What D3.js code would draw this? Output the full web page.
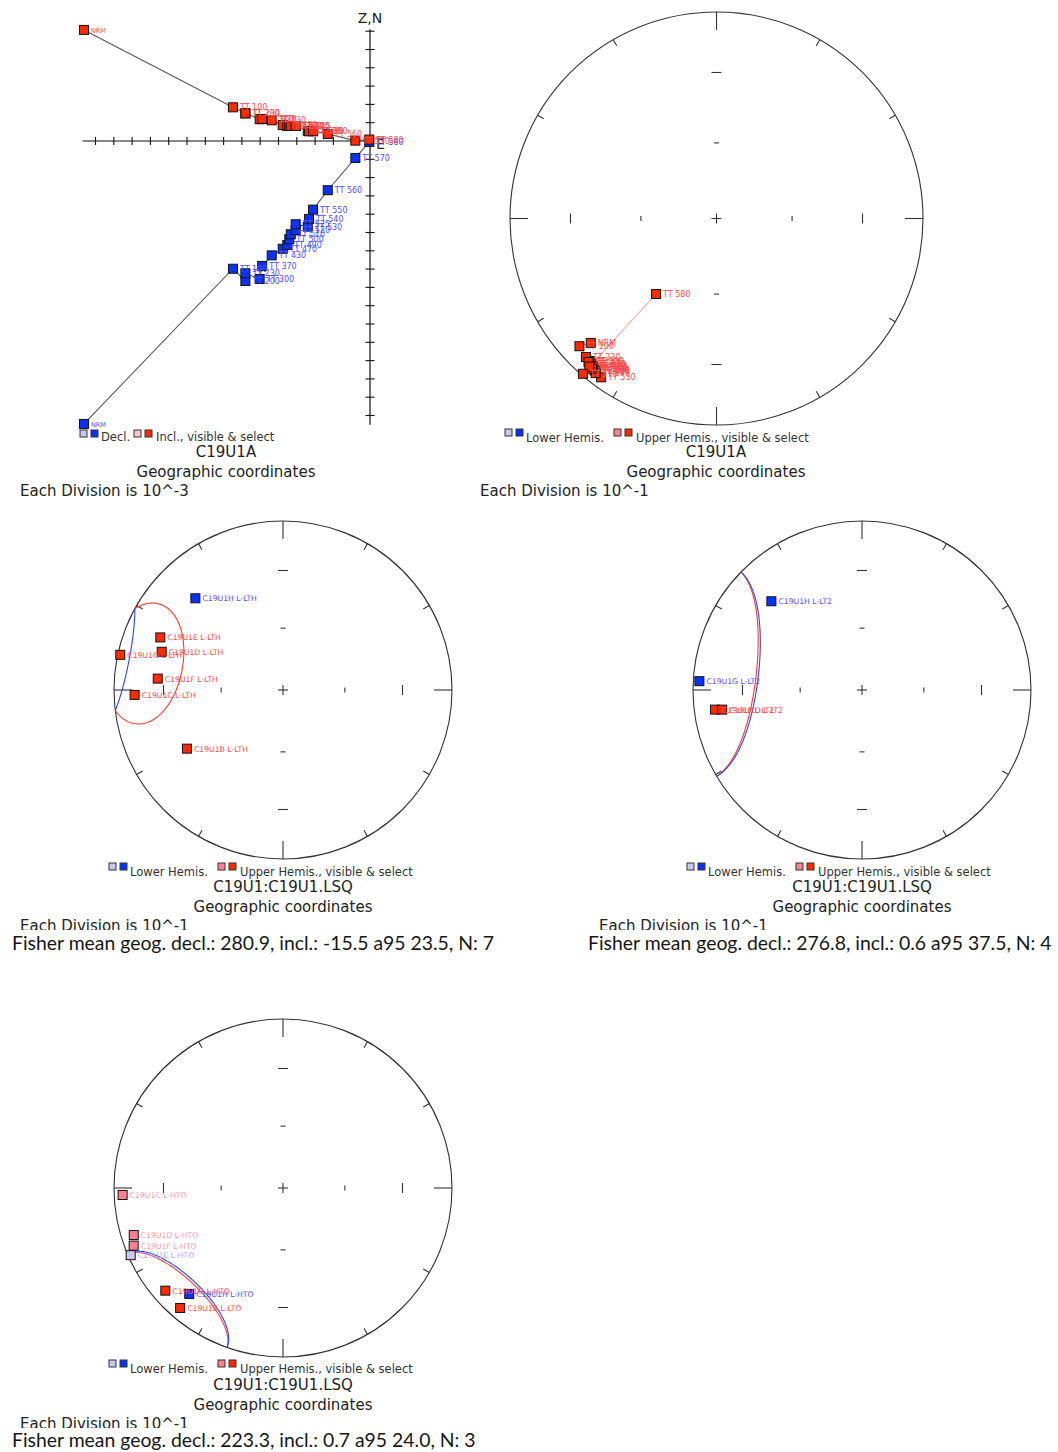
<!DOCTYPE html>
<html>
<head>
<meta charset="utf-8">
<script src="https://cdn.jsdelivr.net/npm/d3@7"></script>
<style>
  body { margin: 0; background: #fff; }
  text { font-family: "DejaVu Sans", sans-serif; }
</style>
</head>
<body>
<script>
// ---------- data ----------
// Zijderveld steps of C19U1A (units: divisions of 10^-3)
const zijSteps = ['NRM', 'TT 100', 'TT 200', 'TT 230', 'TT 300', 'TT 370', 'TT 430', 'TT 470', 'TT 490', 'TT 500',
    'TT 510', 'TT 520', 'TT 525', 'TT 530', 'TT 540', 'TT 550', 'TT 560', 'TT 570', 'TT 580'];
const zijEast = [-15.63, -7.49, -6.81, -6.81, -6.03, -5.89, -5.37, -4.77, -4.52, -4.41,
    -4.33, -4.06, -4.06, -3.40, -3.33, -3.11, -2.31, -0.80, -0.04];
const zijNorth = [-15.46, -6.98, -7.65, -7.23, -7.54, -6.83, -6.25, -5.89, -5.68, -5.37,
    -5.10, -4.86, -4.55, -4.68, -4.26, -3.75, -2.69, -0.93, -0.05];
const zijUp = [6.07, 1.84, 1.51, 1.51, 1.19, 1.20, 1.13, 0.87, 0.82, 0.82,
    0.82, 0.82, 0.82, 0.56, 0.53, 0.53, 0.38, 0.02, 0.08];

// L-LTH directions
const lthNames = ['C19U1B L-LTH', 'C19U1C L-LTH', 'C19U1D L-LTH', 'C19U1E L-LTH', 'C19U1F L-LTH', 'C19U1G L-LTH', 'C19U1H L-LTH'];
const lthDec = [238.6, 268.1, 287.5, 293.2, 275.2, 282.2, 316.3];
const lthInc = [-33.8, -13.2, -25.7, -22.1, -26.5, -1.7, 25.9];
const lthFisher = [280.9, -15.5, 23.5, 7];

// L-LT2 directions
const lt2Names = ['C19U1F L-LT2', 'C19U1D L-LT2', 'C19U1G L-LT2', 'C19U1H L-LT2'];
const lt2Dec = [262.4, 262.0, 273.1, 314.4];
const lt2Inc = [-13.3, -17.6, 4.1, 25.9];
const lt2Fisher = [276.8, 0.6, 37.5, 4];

// L-HTO directions (selected = used in the mean)
const htoNames = ['C19U1C L-HTO', 'C19U1D L-HTO', 'C19U1F L-HTO', 'C19U1E L-HTO', 'C19U1G L-HTO', 'C19U1H L-HTO', 'C19U1B L-LTO'];
const htoDec = [267.5, 252.5, 248.9, 246.2, 228.9, 221.5, 220.6];
const htoInc = [-5.6, -8.2, -5.9, 1.7, -8.4, 17.4, -7.2];
const htoSelected = [false, false, false, false, true, true, true];
const htoFisher = [223.3, 0.7, 24.0, 3];

// ---------- styles ----------
const colLightBlue = '#c8c8f2', colBlue = '#0a32ff', colPink = '#ff8090', colRed = '#ff2a00';
const lblBlue = '#5050ff', lblRed = '#ff4c4c', lblPink = '#ff98a8', lblLightBlue = '#a8a8ff';
const rad = Math.PI / 180;

const svg = d3.select('body')
    .append('svg')
    .attr('width', 1058)
    .attr('height', 1452);

function square(g, x, y, fill, size) {
    const s = size || 9;
    g.append('rect')
        .attr('x', x - s / 2).attr('y', y - s / 2)
        .attr('width', s).attr('height', s)
        .attr('fill', fill).attr('stroke', '#111').attr('stroke-width', 1);
}

function label(g, x, y, txt, color, size) {
    g.append('text')
        .attr('x', x + 7).attr('y', y + 3)
        .attr('font-size', size || 7.7)
        .attr('fill', color)
        .text(txt);
}

function legend(g, x0, top, kind) {
    const baseline = kind === 'zij' ? top + 11 : top + 13;
    g.append('rect').attr('x', x0).attr('y', top).attr('width', 7).attr('height', 7).attr('fill', colLightBlue).attr('stroke', '#333');
    g.append('rect').attr('x', x0 + 11).attr('y', top).attr('width', 7).attr('height', 7).attr('fill', colBlue).attr('stroke', '#333');
    const t1 = kind === 'zij' ? 'Decl.' : 'Lower Hemis.';
    const t2 = kind === 'zij' ? 'Incl., visible & select' : 'Upper Hemis., visible & select';
    const off2 = kind === 'zij' ? 54 : 109;
    g.append('text').attr('x', x0 + 21).attr('y', baseline).attr('font-size', 11.5).attr('fill', '#333').text(t1);
    g.append('rect').attr('x', x0 + off2).attr('y', top).attr('width', 7).attr('height', 7).attr('fill', kind === 'zij' ? '#ffc8c8' : colPink).attr('stroke', '#333');
    g.append('rect').attr('x', x0 + off2 + 11).attr('y', top).attr('width', 7).attr('height', 7).attr('fill', colRed).attr('stroke', '#333');
    g.append('text').attr('x', x0 + off2 + 22).attr('y', baseline).attr('font-size', 11.5).attr('fill', '#333').text(t2);
}

function titles(g, cx, y, name, divX, divText, clipY) {
    g.append('text').attr('x', cx).attr('y', y).attr('text-anchor', 'middle').attr('font-size', 15).attr('fill', '#222').text(name);
    g.append('text').attr('x', cx).attr('y', y + 20).attr('text-anchor', 'middle').attr('font-size', 15).attr('fill', '#222').text('Geographic coordinates');
    const t = g.append('text').attr('x', divX).attr('y', y + 39).attr('font-size', 15).attr('fill', '#222').text(divText);
    if (clipY) {
        const id = 'clip' + Math.round(clipY);
        svg.append('clipPath').attr('id', id).append('rect').attr('x', 0).attr('y', 0).attr('width', 1058).attr('height', clipY);
        t.attr('clip-path', 'url(#' + id + ')');
    }
}

function fisherText(g, x, y, f) {
    g.append('text').attr('x', x).attr('y', y)
        .style('font-family', 'Lato, "Open Sans", sans-serif')
        .attr('font-size', 19.4).attr('fill', '#161616')
        .text('Fisher mean geog. decl.: ' + f[0].toFixed(1) + ', incl.: ' + f[1].toFixed(1) +
            ' a95 ' + f[2].toFixed(1) + ', N: ' + f[3]);
}

// ---------- Zijderveld ----------
(function () {
    const g = svg.append('g');
    const zDiv = 18.3;
    const zx = d3.scaleLinear().domain([0, 1]).range([370, 370 + zDiv]);
    const zy = d3.scaleLinear().domain([0, 1]).range([141, 141 - zDiv]);
    const axisE = [-15.7, 0.1], axisV = [-15.5, 6.1];

    g.append('line').attr('x1', zx(axisE[0])).attr('x2', zx(axisE[1])).attr('y1', zy(0)).attr('y2', zy(0)).attr('stroke', '#111').attr('stroke-width', 1.2);
    g.append('line').attr('x1', zx(0)).attr('x2', zx(0)).attr('y1', zy(axisV[0])).attr('y2', zy(axisV[1])).attr('stroke', '#111').attr('stroke-width', 1.2);
    d3.range(-15, 0).forEach(v => {
        g.append('line').attr('x1', zx(v)).attr('x2', zx(v)).attr('y1', zy(0) - 4).attr('y2', zy(0) + 4).attr('stroke', '#111').attr('stroke-width', 1.1);
    });
    d3.range(-15, 7).filter(v => v !== 0).forEach(v => {
        g.append('line').attr('x1', zx(0) - 4.5).attr('x2', zx(0) + 4.5).attr('y1', zy(v)).attr('y2', zy(v)).attr('stroke', '#111').attr('stroke-width', 1.1);
    });
    g.append('text').attr('x', zx(0)).attr('y', 23).attr('text-anchor', 'middle').attr('font-size', 14).attr('fill', '#222').text('Z,N');
    g.append('text').attr('x', zx(0) + 6).attr('y', zy(0) + 8).attr('font-size', 14).attr('fill', '#222').text('E');

    const idx = d3.range(zijSteps.length);
    const lineN = d3.line().x(i => zx(zijEast[i])).y(i => zy(zijNorth[i]));
    const lineU = d3.line().x(i => zx(zijEast[i])).y(i => zy(zijUp[i]));
    g.append('path').attr('d', lineN(idx)).attr('fill', 'none').attr('stroke', '#555').attr('stroke-width', 1.1);
    g.append('path').attr('d', lineU(idx)).attr('fill', 'none').attr('stroke', '#555').attr('stroke-width', 1.1);

    idx.forEach(i => square(g, zx(zijEast[i]), zy(zijNorth[i]), colBlue));
    idx.forEach(i => label(g, zx(zijEast[i]), zy(zijNorth[i]), zijSteps[i], lblBlue, i === 0 ? 6.5 : 8));
    idx.forEach(i => square(g, zx(zijEast[i]), zy(zijUp[i]), colRed));
    idx.forEach(i => label(g, zx(zijEast[i]), zy(zijUp[i]), zijSteps[i], lblRed, i === 0 ? 6.5 : 8));

    legend(g, 80, 430, 'zij');
    titles(g, 226, 457, 'C19U1A', 20, 'Each Division is 10^-3');
})();

// ---------- stereonets ----------
function makeProj(cx, cy, R) {
    const sx = d3.scaleLinear().domain([-1, 1]).range([cx - R, cx + R]);
    const sy = d3.scaleLinear().domain([-1, 1]).range([cy + R, cy - R]);
    // equal-area (Schmidt) projection
    return (dec, inc) => {
        const r = Math.SQRT2 * Math.sin((90 - Math.abs(inc)) / 2 * rad);
        return [sx(r * Math.sin(dec * rad)), sy(r * Math.cos(dec * rad))];
    };
}

function drawNet(g, cx, cy, R) {
    const proj = makeProj(cx, cy, R);
    g.append('circle').attr('cx', cx).attr('cy', cy).attr('r', R).attr('fill', 'none').attr('stroke', '#333').attr('stroke-width', 1.1);
    d3.range(0, 360, 30).forEach(az => {
        const len = az % 90 === 0 ? 18 : 7;
        const a = az * rad;
        g.append('line')
            .attr('x1', cx + R * Math.sin(a)).attr('y1', cy - R * Math.cos(a))
            .attr('x2', cx + (R - len) * Math.sin(a)).attr('y2', cy - (R - len) * Math.cos(a))
            .attr('stroke', '#333').attr('stroke-width', 1.1);
    });
    [30, 60].forEach(inc => {
        const w = inc === 30 ? 5 : 2.5;
        [0, 90, 180, 270].forEach(az => {
            const p = proj(az, inc);
            const vert = az === 90 || az === 270;
            g.append('line')
                .attr('x1', vert ? p[0] : p[0] - w).attr('x2', vert ? p[0] : p[0] + w)
                .attr('y1', vert ? p[1] - w : p[1]).attr('y2', vert ? p[1] + w : p[1])
                .attr('stroke', '#333').attr('stroke-width', 1.1);
        });
    });
    g.append('line').attr('x1', cx - 5).attr('x2', cx + 5).attr('y1', cy).attr('y2', cy).attr('stroke', '#333').attr('stroke-width', 1.1);
    g.append('line').attr('x1', cx).attr('x2', cx).attr('y1', cy - 5).attr('y2', cy + 5).attr('stroke', '#333').attr('stroke-width', 1.1);
    return proj;
}

function confidenceCircle(g, proj, f) {
    const d = f[0] * rad, i = f[1] * rad, a = f[2] * rad;
    const m = [Math.cos(i) * Math.cos(d), Math.cos(i) * Math.sin(d), Math.sin(i)];
    const u = [-Math.sin(i) * Math.cos(d), -Math.sin(i) * Math.sin(d), Math.cos(i)];
    const v = [-Math.sin(d), Math.cos(d), 0];
    const pts = d3.range(0, 360, 1).map(t => {
        const c = Math.cos(t * rad), s = Math.sin(t * rad);
        const p = [0, 1, 2].map(k => Math.cos(a) * m[k] + Math.sin(a) * (c * u[k] + s * v[k]));
        return [(Math.atan2(p[1], p[0]) / rad + 360) % 360, Math.asin(Math.max(-1, Math.min(1, p[2]))) / rad];
    });
    // split into runs of the same hemisphere
    let start = pts.findIndex((p, k) => k > 0 && (p[1] >= 0) !== (pts[k - 1][1] >= 0));
    if (start < 0) start = 0;
    const ordered = pts.slice(start).concat(pts.slice(0, start));
    ordered.push(ordered[0]);
    const runs = [];
    ordered.forEach(p => {
        const lower = p[1] >= 0;
        if (!runs.length || runs[runs.length - 1].lower !== lower) runs.push({lower: lower, pts: []});
        runs[runs.length - 1].pts.push(p);
    });
    const line = d3.line().x(p => proj(p[0], p[1])[0]).y(p => proj(p[0], p[1])[1]).curve(d3.curveLinear);
    runs.forEach(r => {
        g.append('path').attr('d', line(r.pts)).attr('fill', 'none')
            .attr('stroke', r.lower ? '#2a46ff' : '#ff3a2a').attr('stroke-width', 1.1);
    });
}

function directionSet(g, proj, names, decs, incs, selected) {
    names.forEach((n, k) => {
        const p = proj(decs[k], incs[k]);
        const lower = incs[k] >= 0, sel = !selected || selected[k];
        const fill = sel ? (lower ? colBlue : colRed) : (lower ? colLightBlue : colPink);
        square(g, p[0], p[1], fill);
    });
    names.forEach((n, k) => {
        const p = proj(decs[k], incs[k]);
        const lower = incs[k] >= 0, sel = !selected || selected[k];
        const col = sel ? (lower ? lblBlue : lblRed) : (lower ? lblLightBlue : lblPink);
        label(g, p[0], p[1], n, col, 7.7);
    });
}

// Stereonet of C19U1A demagnetisation steps
(function () {
    const g = svg.append('g');
    const proj = drawNet(g, 716.5, 218.5, 206.5);
    const dec = zijSteps.map((s, i) => (Math.atan2(zijEast[i], zijNorth[i]) / rad + 360) % 360);
    const inc = zijSteps.map((s, i) => -Math.atan2(zijUp[i], Math.hypot(zijEast[i], zijNorth[i])) / rad);
    const path = d3.line().x(i => proj(dec[i], inc[i])[0]).y(i => proj(dec[i], inc[i])[1]);
    g.append('path').attr('d', path(d3.range(zijSteps.length))).attr('fill', 'none').attr('stroke', '#ff8c8c').attr('stroke-width', 1);
    directionSet(g, proj, zijSteps, dec, inc, null);
    g.selectAll('text').attr('font-size', 8);
    legend(g, 505, 429, 'stereo');
    titles(g, 716, 457, 'C19U1A', 480, 'Each Division is 10^-1');
})();

// L-LTH
(function () {
    const g = svg.append('g');
    const proj = drawNet(g, 283, 690, 169);
    confidenceCircle(g, proj, lthFisher);
    directionSet(g, proj, lthNames, lthDec, lthInc, null);
    legend(g, 109, 863, 'stereo');
    titles(g, 283, 892, 'C19U1:C19U1.LSQ', 20, 'Each Division is 10^-1', 930);
    fisherText(g, 12, 950, lthFisher);
})();

// L-LT2
(function () {
    const g = svg.append('g');
    const proj = drawNet(g, 862, 690, 169);
    confidenceCircle(g, proj, lt2Fisher);
    directionSet(g, proj, lt2Names, lt2Dec, lt2Inc, null);
    legend(g, 687, 863, 'stereo');
    titles(g, 862, 892, 'C19U1:C19U1.LSQ', 599, 'Each Division is 10^-1', 930);
    fisherText(g, 588, 950, lt2Fisher);
})();

// L-HTO
(function () {
    const g = svg.append('g');
    const proj = drawNet(g, 283, 1188, 169);
    confidenceCircle(g, proj, htoFisher);
    directionSet(g, proj, htoNames, htoDec, htoInc, htoSelected);
    legend(g, 109, 1360, 'stereo');
    titles(g, 283, 1390, 'C19U1:C19U1.LSQ', 20, 'Each Division is 10^-1', 1428);
    fisherText(g, 12, 1447, htoFisher);
})();
</script>
</body>
</html>
